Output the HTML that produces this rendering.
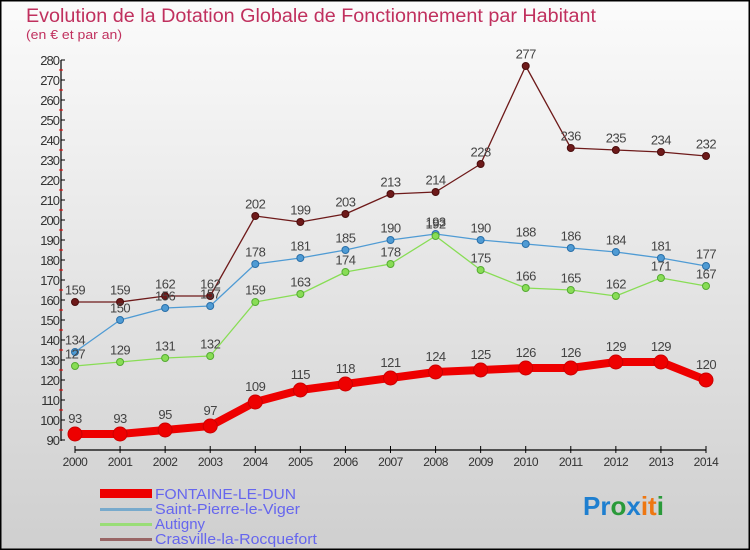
<!DOCTYPE html>
<html><head><meta charset="utf-8"><style>
html,body{margin:0;padding:0;}
body{width:750px;height:550px;overflow:hidden;}
svg{display:block;font-family:"Liberation Sans",sans-serif;}
</style></head><body>
<svg id="chart" width="750" height="550" xmlns="http://www.w3.org/2000/svg">
<defs><linearGradient id="bg" x1="0" y1="0" x2="0" y2="1"><stop offset="0" stop-color="#fbfbfb"/><stop offset="1" stop-color="#cfcfcf"/></linearGradient></defs>
<rect x="0.5" y="0.5" width="749" height="549" fill="url(#bg)" stroke="#000" stroke-width="2"/>
<text x="26" y="22" font-size="19" fill="#c0305e" textLength="570" lengthAdjust="spacingAndGlyphs">Evolution de la Dotation Globale de Fonctionnement par Habitant</text>
<text x="26" y="39" font-size="12.5" fill="#c0305e" textLength="96" lengthAdjust="spacingAndGlyphs">(en € et par an)</text>
<g id="axes"></g>
<g id="series"></g>
<g id="legend">
<rect x="100" y="489" width="52" height="9" fill="#ee0000"/>
<text x="155" y="499" font-size="15" fill="#6666ee" textLength="141" lengthAdjust="spacingAndGlyphs">FONTAINE-LE-DUN</text>
<rect x="100" y="508" width="52" height="3" fill="#78aacc"/>
<text x="155" y="514" font-size="15" fill="#6666ee" textLength="145" lengthAdjust="spacingAndGlyphs">Saint-Pierre-le-Viger</text>
<rect x="100" y="523" width="52" height="3" fill="#99dd77"/>
<text x="155" y="529" font-size="15" fill="#6666ee">Autigny</text>
<rect x="100" y="538" width="52" height="3" fill="#996666"/>
<text x="155" y="544" font-size="15" fill="#6666ee" textLength="162" lengthAdjust="spacingAndGlyphs">Crasville-la-Rocquefort</text>
</g>
<text x="583" y="515" font-size="26" font-weight="bold"><tspan fill="#1e7fd0">Pr</tspan><tspan fill="#2a9a3a">o</tspan><tspan fill="#1e7fd0">x</tspan><tspan fill="#ee7711">it</tspan><tspan fill="#2a9a3a">i</tspan></text>
</svg>
<script>
const years=[2000,2001,2002,2003,2004,2005,2006,2007,2008,2009,2010,2011,2012,2013,2014];
const fontaine=[93,93,95,97,109,115,118,121,124,125,126,126,129,129,120];
const saintPierre=[134,150,156,157,178,181,185,190,193,190,188,186,184,181,177];
const autigny=[127,129,131,132,159,163,174,178,192,175,166,165,162,171,167];
const crasville=[159,159,162,162,202,199,203,213,214,228,277,236,235,234,232];
const yTicks=[90,100,110,120,130,140,150,160,170,180,190,200,210,220,230,240,250,260,270,280];
const NS="http://www.w3.org/2000/svg";
const X=i=>75+i*(706-75)/(years.length-1);
const Y=v=>440-(v-90)*2;
function mk(tag,attrs,parent,txt){const e=document.createElementNS(NS,tag);for(const k in attrs)e.setAttribute(k,attrs[k]);if(txt!==undefined)e.textContent=txt;parent.appendChild(e);return e;}
const ax=document.getElementById('axes');
let e=mk('line',{x1:61,y1:60,x2:61,y2:441,stroke:'#000','stroke-width':1.2},ax);


e=mk('line',{x1:75,y1:450,x2:706,y2:450,stroke:'#000','stroke-width':1.2},ax);


yTicks.forEach(v=>{
  mk('line',{x1:61,y1:Y(v),x2:65,y2:Y(v),stroke:'#000'},ax);
  if(v<280)mk('line',{x1:59,y1:Y(v+5),x2:63,y2:Y(v+5),stroke:'#ee0000'},ax);
  const t=mk('text',{x:59,y:Y(v)+5,'font-size':13,fill:'#333','text-anchor':'end','letter-spacing':'-1'},ax,String(v));
  
  
});
years.forEach((yr,i)=>{
  mk('line',{x1:X(i),y1:446,x2:X(i),y2:453,stroke:'#000'},ax);
  const t=mk('text',{x:X(i),y:466,'font-size':12,fill:'#333','text-anchor':'middle','letter-spacing':'-0.5'},ax,String(yr));
  
  
});
const sg=document.getElementById('series');
function series(vals,color,dark,w,r,name){
  const g=mk('g',{},sg);
  
  
  const p=mk('polyline',{points:vals.map((v,i)=>X(i)+','+Y(v)).join(' '),fill:'none',stroke:color,'stroke-width':w,'stroke-linejoin':'round'},g);
  
  
  vals.forEach((v,i)=>{
    const c=mk('circle',{cx:X(i),cy:Y(v),r:r,fill:color,stroke:dark,'stroke-width':1},g);
    
    
    const t=mk('text',{x:X(i),y:Y(v)-r-4,'font-size':13,fill:'#444','text-anchor':'middle','letter-spacing':'-0.5'},g,String(v));
    
    
  });
}
series(crasville,'#6e1a1a','#4a0d0d',1.3,3.5,'crasville');
series(saintPierre,'#4f9bd4','#2a6fa8',1.3,3.5,'saint-pierre');
series(autigny,'#88dd55','#55aa33',1.3,3.5,'autigny');
series(fontaine,'#ee0000','#cc0000',8,7,'fontaine');
</script>
</body></html>
